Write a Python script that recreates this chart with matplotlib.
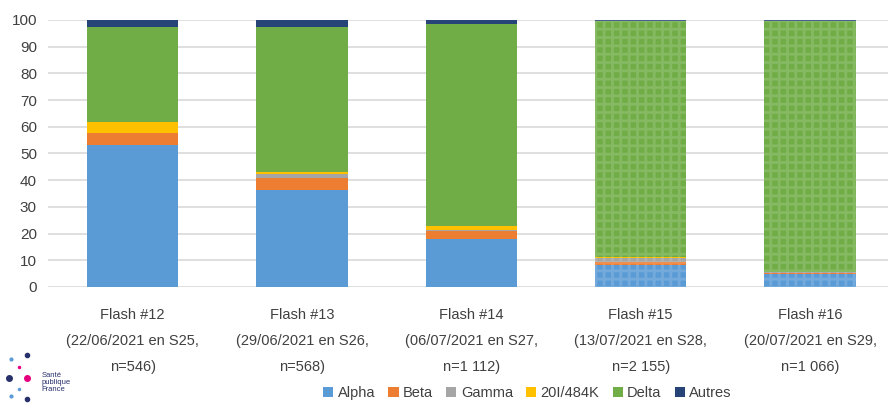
import matplotlib.pyplot as plt
from matplotlib.lines import Line2D
import numpy as np

plt.rcParams['font.family'] = ['Liberation Sans', 'DejaVu Sans']

# categories (one bar per Flash survey)
flashes = ['Flash #12\n(22/06/2021 en S25,\nn=546)',
           'Flash #13\n(29/06/2021 en S26,\nn=568)',
           'Flash #14\n(06/07/2021 en S27,\nn=1 112)',
           'Flash #15\n(13/07/2021 en S28,\nn=2 155)',
           'Flash #16\n(20/07/2021 en S29,\nn=1 066)']

# percentages per variant
alpha = [53.0, 36.5, 18.0, 8.3, 5.0]
beta = [4.5, 4.3, 3.0, 1.0, 0.3]
gamma = [0.3, 1.7, 0.3, 1.4, 0.3]
v20i = [4.0, 0.5, 1.5, 0.4, 0.1]
delta = [35.6, 54.4, 75.7, 88.4, 94.1]
autres = [2.6, 2.6, 1.5, 0.5, 0.2]

names = ['Alpha', 'Beta', 'Gamma', '20I/484K', 'Delta', 'Autres']
series = [alpha, beta, gamma, v20i, delta, autres]
colors = ['#5B9BD5', '#ED7D31', '#A5A5A5', '#FFC000', '#70AD47', '#264478']

fig = plt.figure(figsize=(8.88, 4.03), dpi=100)
ax = fig.add_axes([48/888, 1-287/403, 840/888, 267/403])

x = np.arange(len(flashes))
w = 0.54
bottom = np.zeros(len(flashes))
for name, vals, c in zip(names, series, colors):
    vals = np.array(vals)
    ax.bar(x, vals, w, bottom=bottom, color=c, label=name, zorder=2)
    bottom += vals

# Flash 15 and 16 bars have a light checker pattern
plt.rcParams['hatch.linewidth'] = 2.0
for i in [3, 4]:
    ax.bar(x[i], bottom[i], w, bottom=0, color='none',
           edgecolor=(1, 1, 1, 0.15), hatch='++', linewidth=0, zorder=3)

ax.set_ylim(0, 100)
ax.set_xlim(-0.5, 4.46)
ax.set_yticks(range(0, 101, 10))
ax.set_xticks(x)
ax.set_xticklabels(flashes, fontsize=10.5, color='#404040', linespacing=2.1)
ax.tick_params(axis='y', labelsize=11, colors='#404040', length=0, pad=8)
ax.tick_params(axis='x', length=0, pad=15)
ax.grid(axis='y', color='#D9D9D9', linewidth=1.2, zorder=0)
for s in ax.spines.values():
    s.set_visible(False)

fig.legend(loc='lower center', bbox_to_anchor=(0.594, -0.025), ncol=6, frameon=False,
           fontsize=10.5, handlelength=0.7, handleheight=0.7, handletextpad=0.3,
           columnspacing=0.9, labelcolor='#404040')

# Santé publique France logo (text + dots)
fig.text(0.047, 0.052, 'Santé\npublique\nFrance', fontsize=5.5, color='#27306B',
         va='center', linespacing=1.0)
dots_x = [0.012, 0.030, 0.010, 0.030, 0.012, 0.030, 0.021, 0.021]
dots_y = [0.098, 0.108, 0.052, 0.052, 0.008, 0.000, 0.080, 0.025]
dots_c = ['#5B9BD5', '#27306B', '#27306B', '#E6007E', '#5B9BD5', '#27306B', '#E6007E', '#5B9BD5']
dots_s = [2, 3, 4, 4, 2, 3, 1.5, 1.5]
for dx, dy, dc, ds in zip(dots_x, dots_y, dots_c, dots_s):
    fig.add_artist(Line2D([dx], [dy + 0.01], marker='o', markersize=ds, color=dc,
                          linestyle='none', transform=fig.transFigure))

fig.savefig('out.png', dpi=100)
